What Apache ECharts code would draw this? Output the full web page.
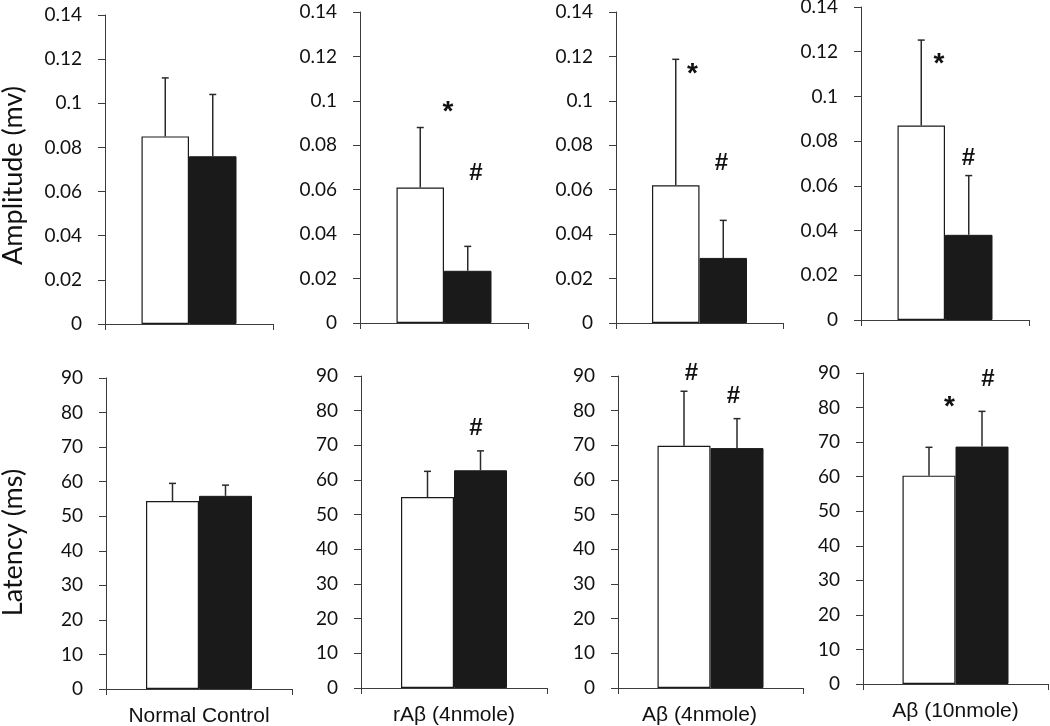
<!DOCTYPE html>
<html>
<head>
<meta charset="utf-8">
<script src="https://cdn.jsdelivr.net/npm/echarts@6/dist/echarts.min.js"></script>
<style>html,body{margin:0;padding:0;background:#fff}#c{width:1050px;height:726px}</style>
</head>
<body>
<div id="c"></div>
<script>
// ---- data ----
const groups = ['Normal Control', 'rAβ (4nmole)', 'Aβ (4nmole)', 'Aβ (10nmole)'];
const ampOpen = [0.085, 0.061, 0.062, 0.087];
const ampOpenErr = [0.0265, 0.027, 0.0567, 0.0382];
const ampFilled = [0.076, 0.0235, 0.0293, 0.0381];
const ampFilledErr = [0.028, 0.011, 0.0169, 0.0265];
const latOpen = [54.4, 55.1, 69.9, 60.3];
const latOpenErr = [5.1, 7.4, 15.7, 8.2];
const latFilled = [55.9, 62.8, 69.2, 68.7];
const latFilledErr = [3.1, 5.6, 8.5, 10.2];
const ampAxis = { min: 0, max: 0.14, interval: 0.02, title: 'Amplitude (mv)' };
const latAxis = { min: 0, max: 90, interval: 10, title: 'Latency (ms)' };
// significance marks: [symbol, value level]
const ampMarks = [[], [['*', 0.0975], ['#', 0.0675]], [['*', 0.1148], ['#', 0.072]], [['*', 0.1172], ['#', 0.0724]]];
const latMarks = [[], [['#', 74.8]], [['#', 90.7], ['#', 84.1]], [['*', 81.8], ['#', 88.1]]];

// ---- layout / style (not data) ----
const grids = [
  { left: 105, top: 15, width: 168, height: 309 },
  { left: 360, top: 12, width: 168, height: 311 },
  { left: 616, top: 12, width: 167, height: 311 },
  { left: 861, top: 7, width: 168, height: 313 },
  { left: 106, top: 378, width: 186, height: 311 },
  { left: 361, top: 376, width: 186, height: 312 },
  { left: 618, top: 376, width: 185, height: 312 },
  { left: 863, top: 373, width: 185, height: 311 }
];
const ampMarkDx = [[], [4, 32], [-7, 22], [-6, 23.5]];
const latMarkDx = [[], [22], [-19, 23], [-6, 32.5]];
const labelPad = [[0,0,0,0],[0,0,0,0],[0,22,0,0],[0,0,0,0]];
const AXIS = '#3c3c3c';
const DARK = '#1a1a1a';

const chart = echarts.init(document.getElementById('c'), null, { renderer: 'canvas' });
const option = { animation: false, backgroundColor: '#fff', grid: [], xAxis: [], yAxis: [], series: [] };

function errSeries(gi, val, err, off) {
  return {
    type: 'custom', xAxisIndex: gi, yAxisIndex: gi, z: 5, silent: true,
    data: [[0, val, err]],
    renderItem: function (params, api) {
      const v = api.value(1), e = api.value(2);
      const b = api.coord([0, v]);
      const t = api.coord([0, v + e]);
      const x = b[0] + off;
      const s = { stroke: '#2a2a2a', lineWidth: 1.5 };
      return { type: 'group', children: [
        { type: 'line', shape: { x1: x, y1: b[1], x2: x, y2: t[1] }, style: s },
        { type: 'line', shape: { x1: x - 3.5, y1: t[1], x2: x + 3.5, y2: t[1] }, style: s }
      ] };
    }
  };
}

function markSeries(gi, marks, dxs) {
  return {
    type: 'custom', xAxisIndex: gi, yAxisIndex: gi, z: 6, silent: true,
    data: marks.map(m => [0, m[1]]),
    renderItem: function (params, api) {
      const m = marks[params.dataIndex];
      const p = api.coord([0, api.value(1)]);
      const star = m[0] === '*';
      return { type: 'text', x: p[0] + dxs[params.dataIndex], y: p[1] + (star ? 6 : 0),
        style: { text: m[0], fontFamily: 'Liberation Sans', fontWeight: 'bold',
          fontSize: star ? 28 : 24, fill: '#111', align: 'center', verticalAlign: 'middle' } };
    }
  };
}

for (let gi = 0; gi < 8; gi++) {
  const row = gi < 4 ? 0 : 1;
  const k = gi % 4;
  const ax = row === 0 ? ampAxis : latAxis;
  const open = row === 0 ? ampOpen : latOpen;
  const openErr = row === 0 ? ampOpenErr : latOpenErr;
  const filled = row === 0 ? ampFilled : latFilled;
  const filledErr = row === 0 ? ampFilledErr : latFilledErr;
  const marks = row === 0 ? ampMarks[k] : latMarks[k];
  const dxs = row === 0 ? ampMarkDx[k] : latMarkDx[k];
  const bw = row === 0 ? 47.5 : 53;
  option.grid.push(Object.assign({ containLabel: false, outerBoundsMode: 'none' }, grids[gi]));
  option.xAxis.push({
    type: 'category', gridIndex: gi, data: [groups[k]],
    axisLine: { show: true, lineStyle: { color: AXIS, width: 1 } },
    axisTick: { show: true, length: 6, lineStyle: { color: AXIS } },
    axisLabel: { show: row === 1, fontFamily: 'Liberation Sans', fontSize: 21, color: '#111', margin: 17, padding: labelPad[k] },
    splitLine: { show: false }
  });
  const yA = {
    type: 'value', gridIndex: gi, min: ax.min, max: ax.max, interval: ax.interval,
    axisLine: { show: true, lineStyle: { color: AXIS, width: 1 } },
    axisTick: { show: true, length: 7, lineStyle: { color: AXIS } },
    axisLabel: { fontFamily: 'Lato', fontSize: 19, color: '#111', margin: 23 },
    splitLine: { show: false }
  };
  if (k === 0) {
    yA.name = ax.title;
    yA.nameLocation = 'middle';
    yA.nameRotate = 90;
    yA.nameGap = row === 0 ? 78 : 79;
    yA.nameTextStyle = { fontFamily: 'Lato', fontSize: 27, color: '#111', padding: row === 0 ? [0, 12, 0, 0] : [0, 18, 0, 0] };
  }
  option.yAxis.push(yA);
  option.series.push({
    type: 'bar', xAxisIndex: gi, yAxisIndex: gi, data: [open[k]], barWidth: bw, barGap: '0%',
    itemStyle: { color: '#ffffff', borderColor: DARK, borderWidth: 1.2 }, silent: true
  });
  option.series.push({
    type: 'bar', xAxisIndex: gi, yAxisIndex: gi, data: [filled[k]], barWidth: bw, barGap: '0%',
    itemStyle: { color: DARK, borderColor: DARK, borderWidth: 1 }, silent: true
  });
  option.series.push(errSeries(gi, open[k], openErr[k], -bw / 2));
  option.series.push(errSeries(gi, filled[k], filledErr[k], bw / 2));
  if (marks.length) option.series.push(markSeries(gi, marks, dxs));
}
chart.setOption(option);
</script>
</body>
</html>
